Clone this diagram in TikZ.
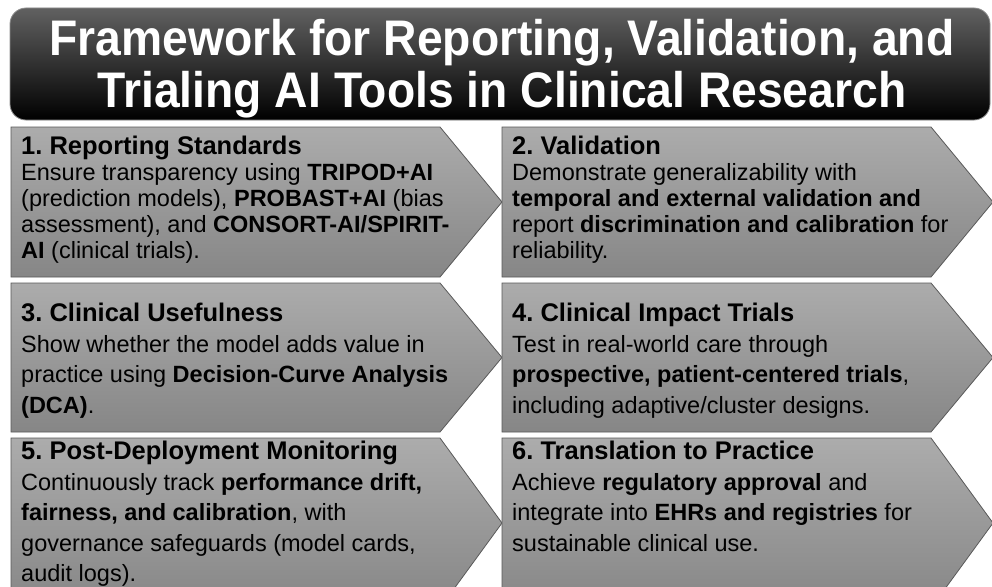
\documentclass[tikz,border=0pt]{standalone}
\usepackage{fontspec}
\setmainfont{Liberation Sans}
\newfontfamily\bannerfont[FakeStretch=0.925]{Liberation Sans}
\usetikzlibrary{positioning}
\frenchspacing
\definecolor{stagetop}{HTML}{ACACAC}
\definecolor{stagebot}{HTML}{868686}
\newcommand{\stagehead}[1]{{\fontsize{25.5}{26}\selectfont\bfseries #1}}
\tikzset{
  titlebar/.style={rounded corners=16pt, top color=black!62, middle color=black,
    bottom color=black, draw=black!45, line width=0.8pt},
  titletext/.style={text=white, align=center, inner sep=0pt,
    font=\bannerfont\fontsize{50}{52}\selectfont\bfseries},
  stage/.style={top color=stagetop, bottom color=stagebot, draw=black!65, line width=0.8pt},
  stagetext/.style={anchor=north west, align=left, inner sep=0pt,
    font=\fontsize{23.5}{26}\selectfont},
  loose/.style={font=\fontsize{23.5}{30.5}\selectfont}
}

\begin{document}
\begin{tikzpicture}[x=1pt, y=-1pt]
  \useasboundingbox (0,0) rectangle (992,586);
  % title banner
  \path[titlebar] (10,8) rectangle (990,120);
  \node[titletext] (title) at (502,69) {Framework for Reporting, Validation, and\\Trialing AI Tools in Clinical Research};
  % six arrow-shaped stages, two per row
  \foreach \x/\y/\h in {11/127/150, 502/127/150, 11/283/149, 502/283/149, 11/438/170, 502/438/170}
    \path[stage] (\x,\y) -- ++(429,0) -- ++(62,\h/2) -- ++(-62,\h/2) -- ++(-429,0) -- cycle;
  \node[stagetext] (report) at (21,136) {\stagehead{1. Reporting Standards}\\
    Ensure transparency using \textbf{TRIPOD+AI}\\
    (prediction models), \textbf{PROBAST+AI} (bias\\
    assessment), and \textbf{CONSORT-AI/SPIRIT-}\\
    \textbf{AI} (clinical trials).};
  \node[stagetext] (valid) at (512,136) {\stagehead{2. Validation}\\
    Demonstrate generalizability with\\
    \textbf{temporal and external validation and}\\
    report \textbf{discrimination and calibration} for\\
    reliability.};
  \node[stagetext, loose] (useful) at (21,303) {\stagehead{3. Clinical Usefulness}\\
    Show whether the model adds value in\\
    practice using \textbf{Decision-Curve Analysis}\\
    \textbf{(DCA)}.};
  \node[stagetext, loose] (impact) at (512,303) {\stagehead{4. Clinical Impact Trials}\\
    Test in real-world care through\\
    \textbf{prospective, patient-centered trials},\\
    including adaptive/cluster designs.};
  \node[stagetext, loose] (monitor) at (21,441) {\stagehead{5. Post-Deployment Monitoring}\\
    Continuously track \textbf{performance drift,}\\
    \textbf{fairness, and calibration}, with\\
    governance safeguards (model cards,\\
    audit logs).};
  \node[stagetext, loose] (practice) at (512,441) {\stagehead{6. Translation to Practice}\\
    Achieve \textbf{regulatory approval} and\\
    integrate into \textbf{EHRs and registries} for\\
    sustainable clinical use.};
\end{tikzpicture}
\end{document}
